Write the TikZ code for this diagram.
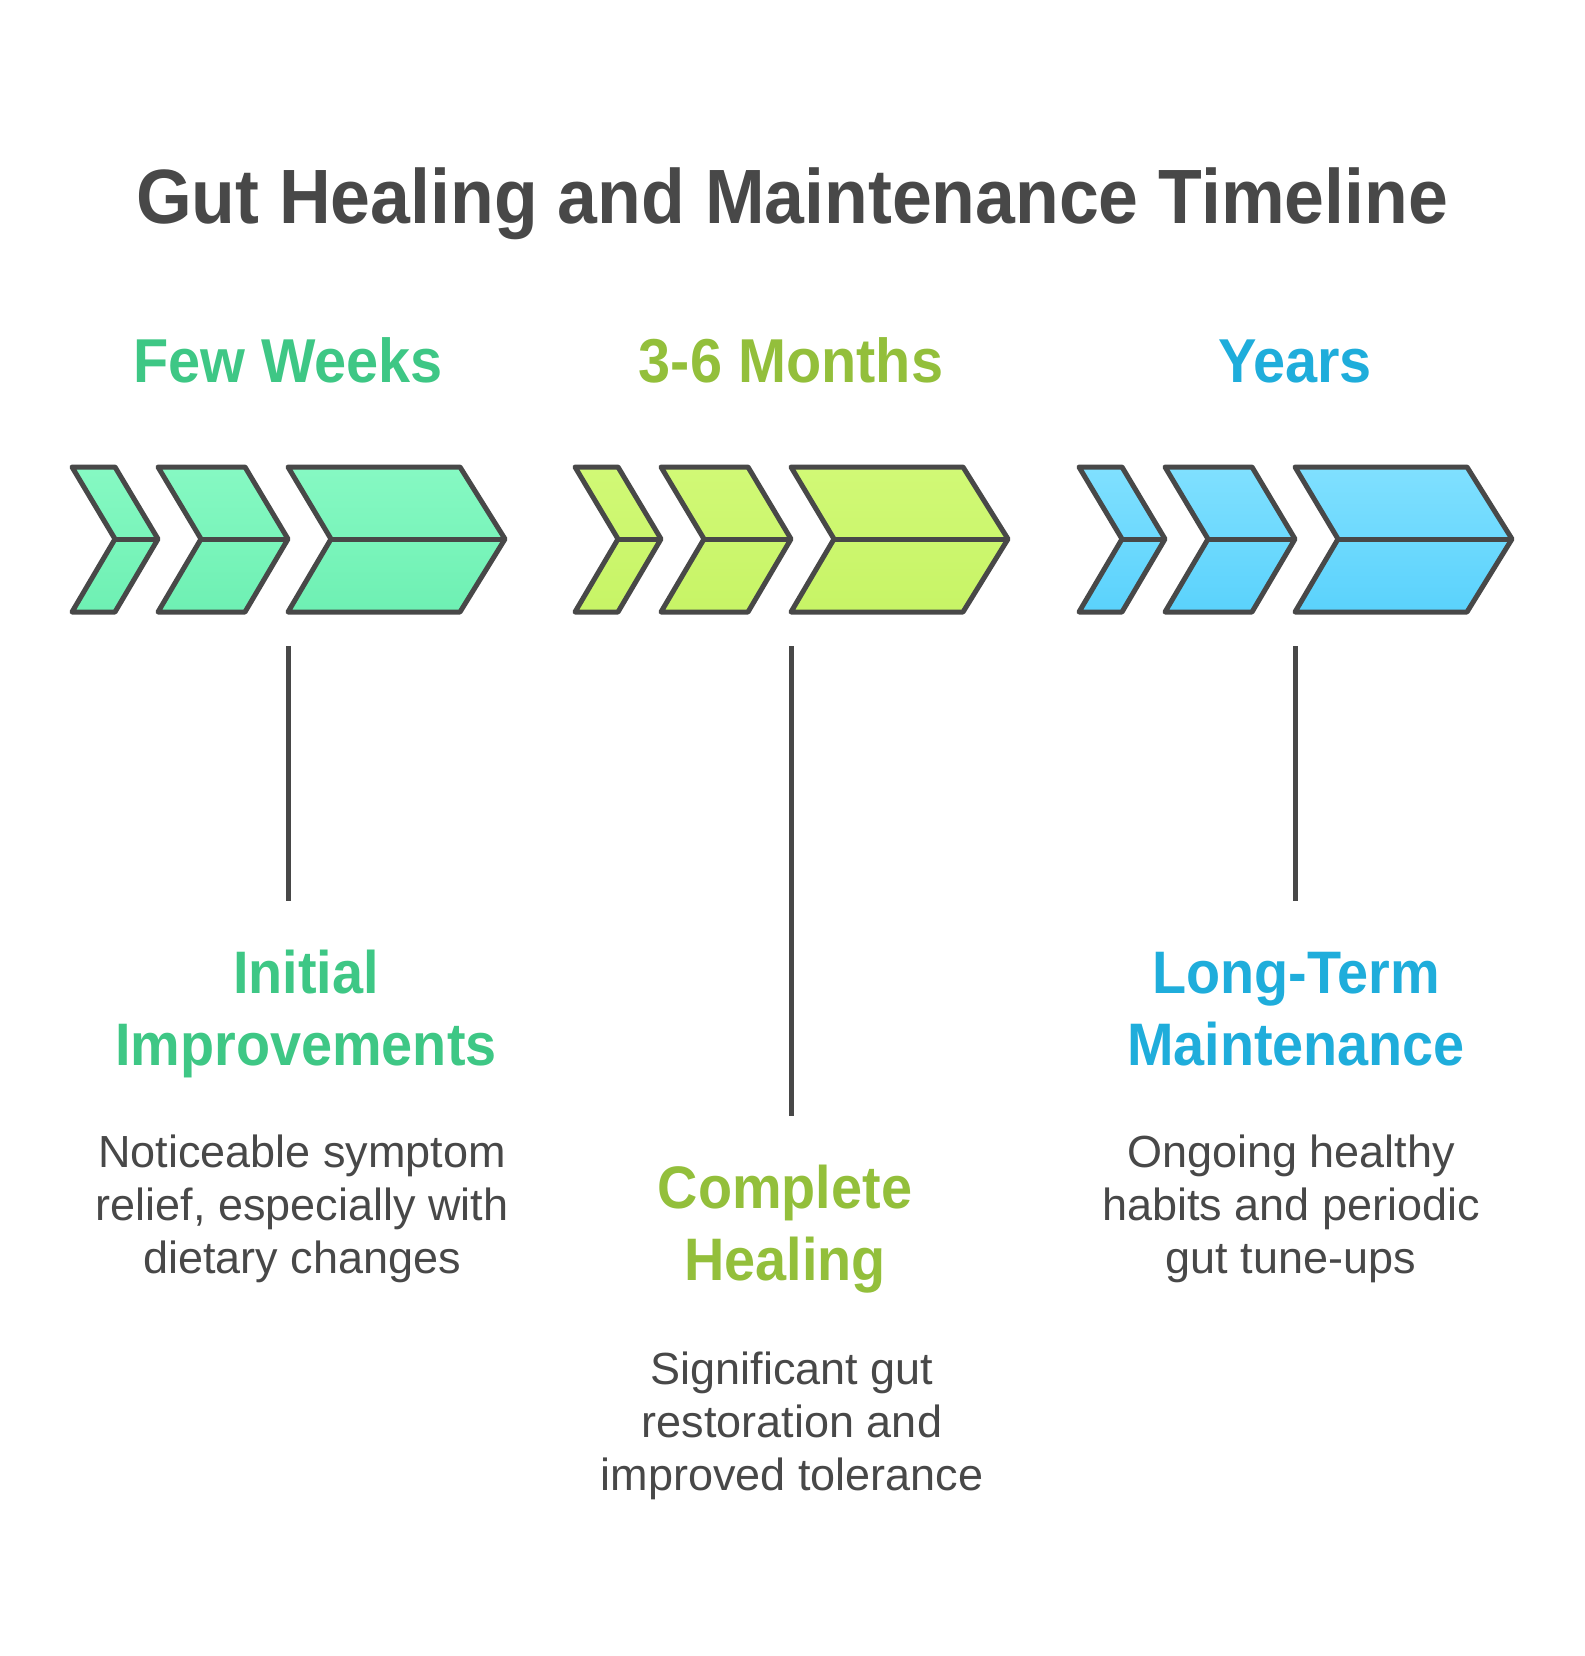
\documentclass[tikz,border=0pt]{standalone}
\usepackage{fontspec}
\setmainfont{Liberation Sans}
\newfontfamily\headfont{Liberation Sans}[FakeStretch=0.93]
\usetikzlibrary{positioning}
\definecolor{ink}{HTML}{484848}
\definecolor{wkText}{HTML}{3EC785}
\definecolor{moText}{HTML}{93BF3B}
\definecolor{yrText}{HTML}{1FADDB}
\definecolor{wkTop}{HTML}{86F9C3}
\definecolor{wkBot}{HTML}{6EF0B3}
\definecolor{moTop}{HTML}{D1F976}
\definecolor{moBot}{HTML}{C7F466}
\definecolor{yrTop}{HTML}{80E0FF}
\definecolor{yrBot}{HTML}{5AD2FC}

\begin{document}
\begin{tikzpicture}[x=1pt, y=-1pt,
    chev/.style={draw=ink, line width=5pt, line join=round},
    stem/.style={draw=ink, line width=5pt},
    period/.style={font=\headfont\bfseries\fontsize{62}{74}\selectfont, anchor=base},
    stage/.style={font=\headfont\bfseries\fontsize{60}{72}\selectfont, anchor=base, align=center},
    desc/.style={font=\fontsize{45}{53}\selectfont, text=ink, anchor=base, align=center}]
        \useasboundingbox (0,0) rectangle (1584,1656);

        % title
        \node[font=\headfont\bfseries\fontsize{77}{90}\selectfont, text=ink, anchor=base] (title) at (792,223) {Gut Healing and Maintenance Timeline};

        % periods
        \node[period, text=wkText] (wkhead) at (288,382) {Few Weeks};
        \node[period, text=moText] (mohead) at (791,382) {3-6 Months};
        \node[period, text=yrText] (yrhead) at (1295,382) {Years};

        % chevrons, three per period
        \foreach \gx/\gc in {72/wk, 575/mo, 1079/yr} {
            \shadedraw[chev, top color=\gc Top, bottom color=\gc Bot]
                (\gx,467) -- (\gx+43,467) -- (\gx+86,539) -- (\gx+43,612) -- (\gx,612) -- (\gx+43,539) -- cycle;
            \draw[chev] (\gx+43,539) -- (\gx+86,539);
            \shadedraw[chev, top color=\gc Top, bottom color=\gc Bot]
                (\gx+86,467) -- (\gx+173,467) -- (\gx+216,539) -- (\gx+173,612) -- (\gx+86,612) -- (\gx+129,539) -- cycle;
            \draw[chev] (\gx+129,539) -- (\gx+216,539);
            \shadedraw[chev, top color=\gc Top, bottom color=\gc Bot]
                (\gx+216,467) -- (\gx+388,467) -- (\gx+433,539) -- (\gx+388,612) -- (\gx+216,612) -- (\gx+259,539) -- cycle;
            \draw[chev] (\gx+259,539) -- (\gx+433,539);
        }

        % stems
        \coordinate (wktop) at (288,646);
        \coordinate (wkbot) at (288,901);
        \coordinate (motop) at (791,646);
        \coordinate (mobot) at (791,1116);
        \coordinate (yrtop) at (1295,646);
        \coordinate (yrbot) at (1295,901);
        \draw[stem] (wktop) -- (wkbot);
        \draw[stem] (motop) -- (mobot);
        \draw[stem] (yrtop) -- (yrbot);

        % stages (anchored on the last line)
        \node[stage, text=wkText] (wkstage) at (306,1065) {Initial\\Improvements};
        \node[desc] (wkdesc) at (302,1273) {Noticeable symptom\\relief, especially with\\dietary changes};

        \node[stage, text=moText] (mostage) at (785,1280) {Complete\\Healing};
        \node[desc] (modesc) at (792,1490) {Significant gut\\restoration and\\improved tolerance};

        \node[stage, text=yrText] (yrstage) at (1296,1065) {Long-Term\\Maintenance};
        \node[desc] (yrdesc) at (1291,1273) {Ongoing healthy\\habits and periodic\\gut tune-ups};
\end{tikzpicture}
\end{document}
